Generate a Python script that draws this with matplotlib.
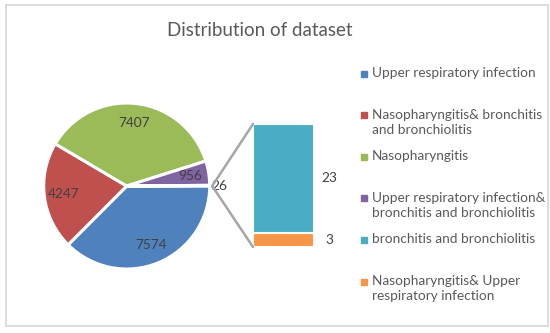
import numpy as np
import matplotlib
matplotlib.use('Agg')
from matplotlib import pyplot as plt
from matplotlib.patches import ConnectionPatch, Rectangle

# ----- Data ----- #
pie_names = ['Upper respiratory infection',
             'Nasopharyngitis& bronchitis\nand bronchiolitis',
             'Nasopharyngitis',
             'Upper respiratory infection&\nbronchitis and bronchiolitis']
pie_values = [7574, 4247, 7407, 956]
bar_names = ['bronchitis and bronchiolitis',
             'Nasopharyngitis& Upper\nrespiratory infection']
bar_values = [23, 3]
other_value = sum(bar_values)

pie_colors = ['#4F81BD', '#C0504D', '#9BBB59', '#8064A2']
bar_colors = ['#4BACC6', '#F79646']

# ----- Figure ----- #
W, H = 550, 333
fig = plt.figure(figsize=(W/100, H/100), dpi=100)
plt.rcParams['font.family'] = ['Lato', 'DejaVu Sans']
txt_c, lab_c = '#595959', '#404040'

ax = fig.add_axes([0, 0, 1, 1])

cx, cy, R = 126.7, H-186.0, 83.0
vals = iter(pie_values + [other_value])
wedges, texts, autotexts = ax.pie(pie_values + [other_value],
                                  colors=pie_colors + ['#ffffff'],
                                  startangle=0, counterclock=False,
                                  center=(cx, cy), radius=R,
                                  autopct=lambda p: '%d' % next(vals), pctdistance=0.77,
                                  wedgeprops=dict(edgecolor='white', linewidth=2.2),
                                  textprops=dict(color=lab_c, fontsize=9.8))
autotexts[-1].set_position((cx + R*1.12, cy))
ax.set_xlim(0, W)
ax.set_ylim(0, H)
ax.axis('off')

# chart border
ax.add_patch(Rectangle((5.5, H-326), 542, 321, fill=False, edgecolor='#d9d9d9', linewidth=1.3))

ax.text(260, H-30, 'Distribution of dataset', ha='center', va='center',
        fontsize=13.5, color=txt_c)

# ----- Bar of pie ----- #
bx0, bx1, by0, by1 = 253, 314, 247, 124
bax = fig.add_axes([bx0/W, (H-by0)/H, (bx1-bx0)/W, (by0-by1)/H])
bottom = 0
for v, c in zip(bar_values[::-1], bar_colors[::-1]):
    bax.bar(0, v, width=1.0, bottom=bottom, color=c, edgecolor='white', linewidth=1.5)
    bax.annotate('%d' % v, (1.0, bottom + v/2.), xycoords=('axes fraction', 'data'),
                 xytext=(11, 0), textcoords='offset points', ha='center', va='center',
                 fontsize=9.8, color=lab_c)
    bottom += v
bax.set_xlim(-0.5, 0.5)
bax.set_ylim(0, other_value)
bax.axis('off')

for yb in [other_value, 0]:
    con = ConnectionPatch(xyA=(cx + R*1.03, cy), coordsA=ax.transData,
                          xyB=(-0.5, yb), coordsB=bax.transData,
                          color='#a6a6a6', linewidth=1.8)
    fig.add_artist(con)

# ----- Legend ----- #
leg_names = pie_names + bar_names
leg_colors = pie_colors + bar_colors
y0, dy = 73.5, 41.6
for i, (nm, c) in enumerate(zip(leg_names, leg_colors)):
    yl = H - (y0 + i*dy)
    ax.plot(364, yl, 's', color=c, markersize=4)
    ax.text(372, yl + 6.5, nm, ha='left', va='top', fontsize=9.8,
            color=txt_c, linespacing=1.3)

plt.savefig('out.png', dpi=100)
plt.close()
